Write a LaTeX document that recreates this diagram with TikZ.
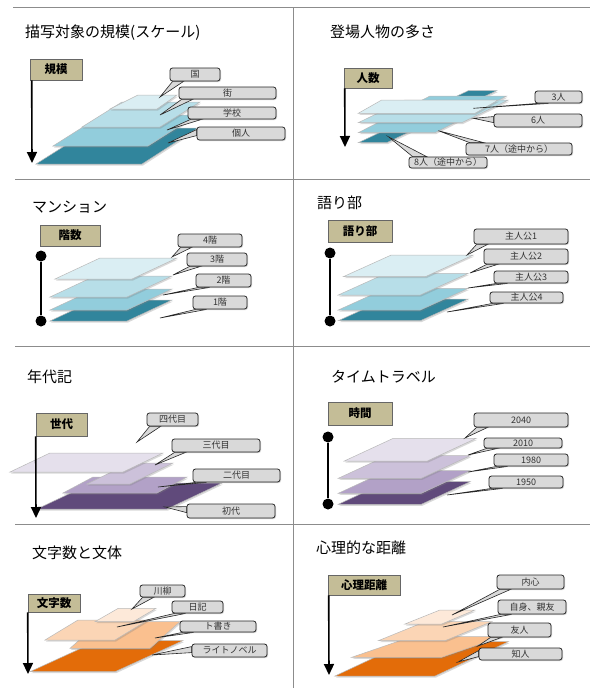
\documentclass[tikz,border=0pt]{standalone}
\usepackage{fontspec}
\setmainfont{Noto Sans CJK JP}
\usetikzlibrary{calc,shadows,arrows.meta}
\definecolor{aqD}{HTML}{31859C}
\definecolor{aqM}{HTML}{92CDDC}
\definecolor{aqL}{HTML}{B7DEE8}
\definecolor{aqX}{HTML}{DAEEF3}
\definecolor{puD}{HTML}{604A7B}
\definecolor{puM}{HTML}{B2A1C7}
\definecolor{puL}{HTML}{CCC1DA}
\definecolor{puX}{HTML}{E5E0EC}
\definecolor{orD}{HTML}{E36C09}
\definecolor{orM}{HTML}{FAC08F}
\definecolor{orL}{HTML}{FBD5B5}
\definecolor{orX}{HTML}{FDE9D9}
\definecolor{tagc}{HTML}{C4BD97}
\definecolor{cbc}{HTML}{D9D9D9}
\definecolor{rulec}{HTML}{8C8C8C}
\pgfdeclarelayer{bg}
\pgfdeclarelayer{mid}
\pgfsetlayers{bg,mid,main}
\newcommand\plate[5]{\begin{pgfonlayer}{bg}\filldraw[platest,fill=#1] #2 -- #3 -- #4 -- #5 -- cycle;\end{pgfonlayer}}
\newcommand\pplate[6]{\begin{pgfonlayer}{bg}\filldraw[platest,fill=#1] (#2,#3) -- ++(#4,0) -- ++(#5,-#6) -- ++(-#4,0) -- cycle;\end{pgfonlayer}}
\newcommand\cbox[6]{\node[cb,minimum width={(#4-#2)*1pt},minimum height={(#5-#3)*1pt}] (#1) at ({(#2+#4)/2},{(#3+#5)/2}) {#6};}
\newcommand\tailb[2]{\begin{pgfonlayer}{mid}\filldraw[tailst] ($(#1.south west)+(3,0)$) -- (#2) -- ($(#1.south west)+(14,0)$) -- cycle;\end{pgfonlayer}}
\newcommand\tailt[2]{\begin{pgfonlayer}{mid}\filldraw[tailst] ($(#1.north west)+(4,0)$) -- (#2) -- ($(#1.north west)+(18,0)$) -- cycle;\end{pgfonlayer}}
\newcommand\taill[2]{\begin{pgfonlayer}{mid}\filldraw[tailst] ($(#1.north west)+(0,3)$) -- (#2) -- ($(#1.north west)+(0,9)$) -- cycle;\end{pgfonlayer}}
\begin{document}
\begin{tikzpicture}[x=1pt,y=-1pt,
 platest/.style={draw=gray!55,line width=0.5pt,drop shadow={opacity=0.3,shadow xshift=1pt,shadow yshift=-1.5pt}},
 cb/.style={draw=black!85,fill=cbc,rounded corners=2.5pt,line width=0.8pt,inner sep=0pt,font=\fontsize{9}{10}\selectfont,text=black!80,drop shadow={opacity=0.35,shadow xshift=1pt,shadow yshift=-1pt}},
 tailst/.style={draw=black!85,fill=cbc,line width=0.6pt},
 tag/.style={draw=black!60,fill=tagc,inner sep=0pt,font=\bfseries\fontsize{11.5}{12}\selectfont,line width=0.6pt},
 ttl/.style={anchor=west,inner sep=0pt,font=\fontsize{15}{16}\selectfont},
 axarrow/.style={line width=1.6pt,-{Triangle[width=10pt,length=11pt]}},
 dot/.style={circle,fill=black,inner sep=0pt,minimum size=11pt},
 vline/.style={line width=2pt},
 rulest/.style={draw=rulec,line width=1pt}]
\useasboundingbox (0,0) rectangle (595,688);
\begin{pgfonlayer}{bg}
\fill[white] (0,0) rectangle (595,688);
\end{pgfonlayer}
% grid rules
\draw[rulest] (13,7) -- (590,7);
\draw[rulest] (15,179) -- (590,179);
\draw[rulest] (15,346) -- (590,346);
\draw[rulest] (15,524) -- (590,524);
\draw[rulest] (293,7) -- (293,688);

% ---------- Panel 1
\node[ttl] (t1) at (25,33) {描写対象の規模(スケール)};
\node[tag,minimum width=52pt,minimum height=21pt] (g1) at (56,69.5) {規模};
\coordinate (a1) at (32,163);
\draw[axarrow] ($(g1.south west)+(2,0)$) -- (a1);
\plate{aqD}{(36,164)}{(142,164)}{(198,128)}{(93,128)}
\plate{aqM}{(53,146)}{(148,146)}{(197,115)}{(102,115)}
\plate{aqL}{(82,127)}{(160,127)}{(200,102)}{(122,102)}
\plate{aqX}{(110,109)}{(157,109)}{(177,95)}{(138,95)}
\coordinate (p1a) at (160,97);
\coordinate (p1b) at (160,115);
\coordinate (p1c) at (167,130);
\coordinate (p1d) at (168,143);
\cbox{c1a}{170}{68}{220}{81}{国}
\cbox{c1b}{179}{87}{276}{99}{街}
\cbox{c1c}{188}{107}{276}{119}{学校}
\cbox{c1d}{197}{127}{285}{140}{個人}
\tailb{c1a}{p1a}\tailb{c1b}{p1b}\tailb{c1c}{p1c}\taill{c1d}{p1d}

% ---------- Panel 2
\node[ttl] (t2) at (330,32) {登場人物の多さ};
\node[tag,minimum width=48pt,minimum height=20pt] (g2) at (368,78) {人数};
\coordinate (a2) at (345,147);
\draw[axarrow] ($(g2.south west)+(1,0)$) -- (a2);
\plate{aqD}{(358.3,142.7)}{(386.7,142.7)}{(496.7,90.7)}{(468.3,90.7)}
\plate{aqM}{(358.3,132.7)}{(435,132.7)}{(506.7,96)}{(430,96)}
\plate{aqL}{(358.3,122.7)}{(461.7,122.7)}{(508.3,100)}{(405,100)}
\plate{aqX}{(358.3,113.3)}{(475,113.3)}{(498.3,100)}{(381.7,100)}
\coordinate (p2a) at (473.3,108.3);
\coordinate (p2b) at (473.3,118.3);
\coordinate (p2c) at (438.3,130.7);
\coordinate (p2d) at (388.3,136.7);
\cbox{c2a}{535}{91}{582}{103}{3人}
\cbox{c2b}{494}{114}{582}{127}{6人}
\cbox{c2c}{466}{143}{572}{155}{7人（途中から）}
\cbox{c2d}{409}{157}{487}{168}{8人（途中から）}
\tailb{c2a}{p2a}\taill{c2b}{p2b}\tailt{c2c}{p2c}\tailt{c2d}{p2d}

% ---------- Panel 3
\node[ttl] (t3) at (32,207) {マンション};
\node[tag,minimum width=60pt,minimum height=21pt] (g3) at (70,235.5) {階数};
\node[dot] (d3a) at (41,256) {};
\node[dot] (d3b) at (41,321) {};
\draw[vline] (d3a) -- (d3b);
\pplate{aqD}{50}{321}{77}{45}{21}
\pplate{aqM}{50}{310}{77}{45}{21}
\pplate{aqL}{50}{297}{77}{45}{21}
\pplate{aqX}{55}{279}{77}{45}{21}
\coordinate (p3a) at (172,257);
\coordinate (p3b) at (173,275);
\coordinate (p3c) at (163,295);
\coordinate (p3d) at (160,318);
\cbox{c3a}{178}{234}{242}{247}{4階}
\cbox{c3b}{187}{253}{247}{266}{3階}
\cbox{c3c}{196}{274}{251}{287}{2階}
\cbox{c3d}{193}{296}{247}{309}{1階}
\tailb{c3a}{p3a}\tailb{c3b}{p3b}\tailb{c3c}{p3c}\tailb{c3d}{p3d}

% ---------- Panel 4
\node[ttl] (t4) at (317,203) {語り部};
\node[tag,minimum width=64pt,minimum height=22pt] (g4) at (360,231) {語り部};
\node[dot] (d4a) at (330,253) {};
\node[dot] (d4b) at (330,321) {};
\draw[vline] (d4a) -- (d4b);
\pplate{aqD}{338.3}{320.7}{82}{48}{21.7}
\pplate{aqM}{338.3}{310}{82}{48}{21.7}
\pplate{aqL}{338.3}{295}{82}{48}{21.7}
\pplate{aqX}{343.3}{276.7}{82}{48}{21.7}
\coordinate (p4a) at (467,255);
\coordinate (p4b) at (470,273);
\coordinate (p4c) at (468,288);
\coordinate (p4d) at (447,312);
\cbox{c4a}{474}{229}{568}{244}{主人公1}
\cbox{c4b}{484}{249}{568}{264}{主人公2}
\cbox{c4c}{494}{271}{568}{283}{主人公3}
\cbox{c4d}{490}{292}{563}{303}{主人公4}
\tailb{c4a}{p4a}\tailb{c4b}{p4b}\tailb{c4c}{p4c}\tailb{c4d}{p4d}

% ---------- Panel 5
\node[ttl] (t5) at (27,377) {年代記};
\node[tag,minimum width=51pt,minimum height=23pt] (g5) at (61.5,424.5) {世代};
\coordinate (a5) at (36,518);
\draw[axarrow] ($(g5.south west)+(0,0)$) -- (a5);
\plate{puD}{(37,509)}{(167,509)}{(222,483)}{(92,483)}
\plate{puM}{(63,493)}{(157,493)}{(187,477)}{(93,477)}
\plate{puL}{(87,484)}{(130,484)}{(173,463)}{(130,463)}
\plate{puX}{(10,472)}{(123,472)}{(163,453)}{(50,453)}
\coordinate (p5a) at (137,442);
\coordinate (p5b) at (155,465);
\coordinate (p5c) at (158,487);
\coordinate (p5d) at (165,507);
\cbox{c5a}{147}{413}{198}{426}{四代目}
\cbox{c5b}{172}{439}{260}{452}{三代目}
\cbox{c5c}{193}{469}{280}{482}{二代目}
\cbox{c5d}{187}{504}{275}{518}{初代}
\tailb{c5a}{p5a}\tailb{c5b}{p5b}\tailb{c5c}{p5c}\taill{c5d}{p5d}

% ---------- Panel 6
\node[ttl] (t6) at (331,377) {タイムトラベル};
\node[tag,minimum width=64pt,minimum height=23pt] (g6) at (360,413.5) {時間};
\node[dot] (d6a) at (328,437) {};
\node[dot] (d6b) at (328,504) {};
\draw[vline] (d6a) -- (d6b);
\pplate{puD}{338.3}{504.3}{83}{49}{22.7}
\pplate{puM}{338.3}{493.3}{83}{49}{22.7}
\pplate{puL}{338.3}{478.3}{83}{49}{22.7}
\pplate{puX}{344.3}{461}{83}{49}{22.7}
\coordinate (p6a) at (465,438);
\coordinate (p6b) at (468,455);
\coordinate (p6c) at (468,472);
\coordinate (p6d) at (447,495);
\cbox{c6a}{474}{413}{568}{427}{2040}
\cbox{c6b}{484}{438}{562}{448}{2010}
\cbox{c6c}{494}{454}{568}{466}{1980}
\cbox{c6d}{489}{476}{563}{488}{1950}
\tailb{c6a}{p6a}\tailb{c6b}{p6b}\tailb{c6c}{p6c}\tailb{c6d}{p6d}

% ---------- Panel 7
\node[ttl] (t7) at (32,553) {文字数と文体};
\node[tag,minimum width=52pt,minimum height=18pt] (g7) at (54,603) {文字数};
\coordinate (a7) at (28,674);
\draw[axarrow] ($(g7.south west)+(0,0)$) -- (a7);
\plate{orD}{(30,671.7)}{(115,671.7)}{(182.7,640.7)}{(97.7,640.7)}
\plate{orM}{(70,648.3)}{(150,648.3)}{(180,621.7)}{(100,621.7)}
\plate{orL}{(45,640)}{(115,640)}{(148,620)}{(78,620)}
\plate{orX}{(95,621.7)}{(133.3,621.7)}{(156,608.3)}{(118.3,608.3)}
\coordinate (p7a) at (132,609);
\coordinate (p7b) at (117,627);
\coordinate (p7c) at (155,638);
\coordinate (p7d) at (152,655);
\cbox{c7a}{140}{585}{185}{597}{川柳}
\cbox{c7b}{172}{601}{223}{613}{日記}
\cbox{c7c}{180}{621}{256}{632}{ト書き}
\cbox{c7d}{192}{644}{267}{657}{ライトノベル}
\tailb{c7a}{p7a}\tailb{c7b}{p7b}\tailb{c7c}{p7c}\taill{c7d}{p7d}

% ---------- Panel 8
\node[ttl] (t8) at (316,548) {心理的な距離};
\node[tag,minimum width=72pt,minimum height=20pt] (g8) at (364,585) {心理距離};
\coordinate (a8) at (329,675);
\draw[axarrow] ($(g8.south west)+(1,0)$) -- (a8);
\plate{orD}{(335,676)}{(435,676)}{(508.3,641.7)}{(408.3,641.7)}
\plate{orM}{(351.7,657.3)}{(441.7,657.3)}{(501.7,636.7)}{(411.7,636.7)}
\plate{orL}{(378.3,640.7)}{(445,640.7)}{(491.7,621.7)}{(425,621.7)}
\plate{orX}{(405,624)}{(441.7,624)}{(475,610)}{(440,610)}
\coordinate (p8a) at (452,615);
\coordinate (p8b) at (443,627);
\coordinate (p8c) at (478,646);
\coordinate (p8d) at (458,662);
\cbox{c8a}{497}{575}{564}{589}{内心}
\cbox{c8b}{498}{600}{566}{614}{自身、親友}
\cbox{c8c}{488}{623}{551}{637}{友人}
\cbox{c8d}{479}{648}{562}{660}{知人}
\tailb{c8a}{p8a}\tailb{c8b}{p8b}\tailb{c8c}{p8c}\taill{c8d}{p8d}
\end{tikzpicture}
\end{document}
